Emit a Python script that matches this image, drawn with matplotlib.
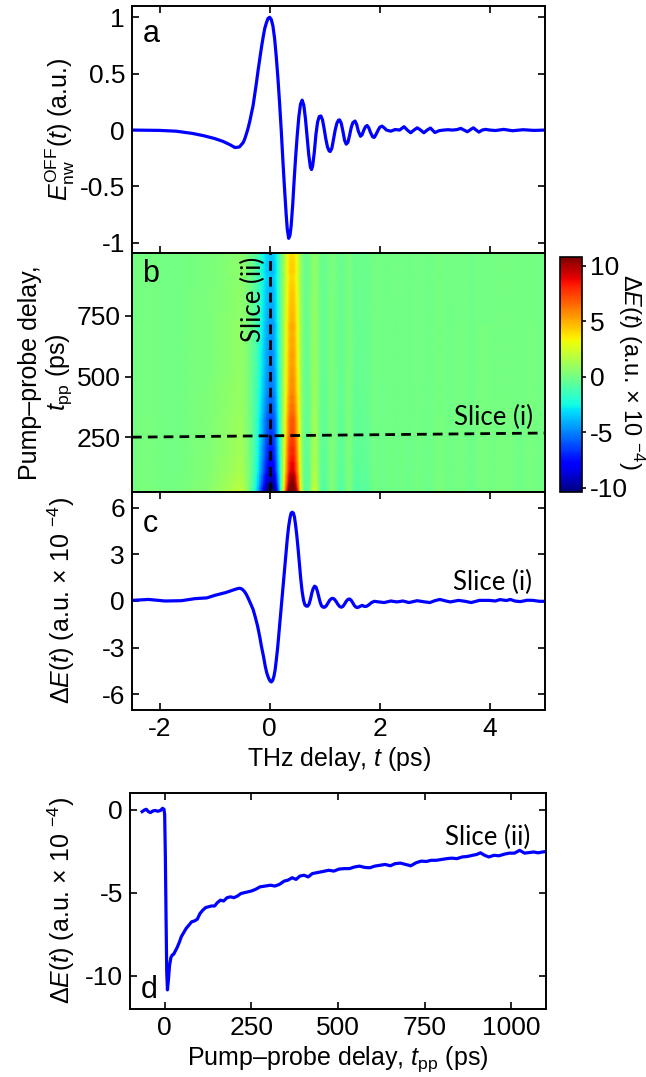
import numpy as np
import matplotlib
matplotlib.use('Agg')
import matplotlib.pyplot as plt

# ---------------- data ----------------
# Panel a: reference THz waveform E_nw^OFF(t)
t_a = [-2.5, -2.0, -1.7, -1.4, -1.2, -1.0, -0.85, -0.72, -0.63, -0.55, -0.48, -0.45,
       -0.42, -0.39, -0.36, -0.33, -0.30, -0.27, -0.24, -0.21, -0.18, -0.15, -0.12, -0.09,
       -0.06, -0.03, 0.0, 0.03, 0.06, 0.09, 0.12, 0.15, 0.18, 0.21, 0.24, 0.27, 0.30, 0.32,
       0.345, 0.37, 0.39, 0.42, 0.44, 0.47, 0.50, 0.53, 0.56, 0.59, 0.62, 0.65, 0.68, 0.71,
       0.74, 0.76, 0.78, 0.81, 0.84, 0.87, 0.90, 0.93, 0.96, 0.99, 1.02, 1.05, 1.08, 1.10,
       1.13, 1.16, 1.19, 1.22, 1.25, 1.27, 1.30, 1.33, 1.36, 1.39, 1.42, 1.45, 1.48, 1.51,
       1.55, 1.58, 1.61, 1.65, 1.68, 1.71, 1.74, 1.77, 1.80, 1.83, 1.87, 1.90, 1.93, 1.97,
       2.00, 2.04, 2.08, 2.12, 2.20, 2.28, 2.36, 2.44, 2.50, 2.56, 2.62, 2.68, 2.74, 2.80,
       2.86, 2.92, 3.00, 3.08, 3.16, 3.24, 3.32, 3.40, 3.47, 3.53, 3.59, 3.65, 3.70, 3.75,
       3.80, 3.86, 3.92, 4.0, 4.1, 4.25, 4.41, 4.6, 4.8, 5.0]
E_off = [0.0, -0.003, -0.01, -0.03, -0.05, -0.075, -0.10, -0.13, -0.155, -0.15, -0.11, -0.075,
         -0.03, 0.02, 0.08, 0.15, 0.22, 0.32, 0.42, 0.53, 0.63, 0.73, 0.82, 0.90,
         0.95, 0.99, 1.0, 0.98, 0.92, 0.81, 0.65, 0.46, 0.24, 0.0, -0.27, -0.52, -0.75, -0.88,
         -0.96, -0.93, -0.85, -0.65, -0.48, -0.25, -0.05, 0.12, 0.23, 0.265, 0.22, 0.10, -0.06, -0.22,
         -0.33, -0.35, -0.32, -0.20, -0.04, 0.07, 0.12, 0.125, 0.09, 0.01, -0.08, -0.15, -0.185, -0.19,
         -0.16, -0.08, 0.0, 0.06, 0.088, 0.09, 0.06, -0.01, -0.09, -0.125, -0.11, -0.05, 0.02, 0.065,
         0.08, 0.05, -0.01, -0.055, -0.04, 0.0, 0.03, 0.04, 0.02, -0.02, -0.06, -0.065, -0.04, 0.0,
         0.025, 0.035, 0.02, 0.0, -0.01, 0.005, 0.0, 0.03, 0.0, -0.024, 0.0, 0.02, 0.0, -0.024,
         0.0, 0.018, -0.022, -0.005, 0.0, 0.003, 0.0, 0.004, 0.015, 0.0, -0.015, 0.005, 0.02, 0.0,
         -0.018, 0.0, 0.006, 0.0, -0.004, 0.006, -0.006, 0.003, -0.003, 0.0]

# Panel c: slice (i), Delta E(t) at t_pp ~ 250 ps (units of 1e-4)
t_c = [-2.5, -2.2, -1.9, -1.6, -1.36, -1.14, -0.99, -0.8, -0.65, -0.58, -0.54, -0.50,
       -0.46, -0.42, -0.38, -0.34, -0.30, -0.26, -0.22, -0.18, -0.15, -0.11, -0.08, -0.05,
       -0.02, 0.01, 0.03, 0.055, 0.08, 0.10, 0.12, 0.145, 0.17, 0.195, 0.22, 0.245, 0.27,
       0.295, 0.32, 0.345, 0.37, 0.39, 0.41, 0.43, 0.45, 0.47, 0.49, 0.515, 0.54, 0.565,
       0.59, 0.615, 0.64, 0.665, 0.69, 0.715, 0.74, 0.765, 0.79, 0.815, 0.84, 0.865, 0.89,
       0.915, 0.94, 0.97, 1.0, 1.03, 1.06, 1.09, 1.12, 1.15, 1.18, 1.21, 1.24, 1.27, 1.30,
       1.33, 1.36, 1.39, 1.42, 1.45, 1.48, 1.51, 1.54, 1.57, 1.60, 1.64, 1.68, 1.72, 1.76,
       1.80, 1.85, 1.90, 1.96, 2.08, 2.2, 2.31, 2.42, 2.53, 2.68, 2.8, 2.91, 3.0, 3.09,
       3.2, 3.28, 3.43, 3.55, 3.66, 3.81, 3.99, 4.1, 4.18, 4.3, 4.37, 4.45, 4.55,
       4.68, 4.78, 4.9, 5.0]
dE_slice_i = [0.04, 0.1, 0.0, 0.02, 0.15, 0.2, 0.37, 0.54, 0.72, 0.80, 0.82, 0.76,
              0.62, 0.40, 0.1, -0.22, -0.55, -1.05, -1.6, -2.3, -2.9, -3.6, -4.2, -4.65,
              -4.95, -5.15, -5.2, -5.1, -4.8, -4.4, -3.8, -3.0, -2.0, -1.0, 0.0, 1.0, 2.0,
              3.0, 4.0, 4.8, 5.35, 5.65, 5.7, 5.65, 5.4, 4.9, 4.3, 3.4, 2.4, 1.4,
              0.6, 0.05, -0.25, -0.33, -0.33, -0.2, 0.1, 0.5, 0.8, 0.95, 0.9, 0.65, 0.3,
              -0.05, -0.3, -0.4, -0.4, -0.3, -0.12, 0.05, 0.15, 0.17, 0.1, -0.05, -0.22, -0.35, -0.4,
              -0.35, -0.2, -0.02, 0.1, 0.13, 0.05, -0.12, -0.3, -0.4, -0.42, -0.35, -0.28, -0.35, -0.34,
              -0.25, -0.1, -0.02, -0.05, -0.1, 0.0, -0.06, 0.0, -0.1, 0.02, -0.05, -0.1, 0.02, 0.1,
              0.0, -0.06, 0.04, -0.02, -0.1, 0.04, 0.04, 0.0, 0.09, 0.03, 0.1, 0.0, -0.04,
              0.05, 0.04, -0.02, -0.02]

# Panel d: slice (ii), Delta E at t = 0 vs pump-probe delay (units of 1e-4)
tpp_d = [-65, -58, -53, -47, -41, -34, -27, -20, -12, -6, -2, 0, 2, 4, 6, 8, 11, 14, 18,
         22, 26, 31, 36, 42, 48, 55, 62, 70, 78, 86, 94, 102, 110, 118, 126, 135, 144,
         152, 161, 170, 180, 190, 200, 210, 220, 230, 240, 250, 262, 275, 290, 305, 318,
         331, 345, 355, 368, 379, 390, 402, 414, 426, 438, 450, 462, 473, 488, 503, 518,
         533, 548, 562, 577, 592, 606, 621, 636, 651, 665, 680, 695, 710, 725, 740, 755,
         769, 784, 799, 814, 828, 843, 858, 873, 888, 900, 911, 923, 935, 950, 964, 980,
         994, 1009, 1024, 1038, 1053, 1065, 1077, 1090, 1100]
dE_slice_ii = [-0.12, -0.02, 0.02, -0.12, -0.18, -0.08, -0.05, -0.1, -0.05, 0.08, 0.02, -0.3,
               -2.8, -6.5, -9.8, -10.85, -10.2, -9.4, -8.9,
               -8.75, -8.7, -8.5, -8.3, -8.0, -7.65, -7.4, -7.15, -6.95, -6.75, -6.7, -6.6,
               -6.25, -6.05, -5.9, -5.85, -5.8, -5.8,
               -5.6, -5.45, -5.5, -5.3, -5.25, -5.3, -5.2, -5.05, -5.0, -4.95, -4.9, -4.8,
               -4.65, -4.6, -4.55, -4.6,
               -4.5, -4.3, -4.25, -4.1, -4.2, -4.0, -3.95, -4.05, -3.85, -3.8, -3.75, -3.7,
               -3.65, -3.7, -3.58, -3.55,
               -3.55, -3.45, -3.4, -3.48, -3.5, -3.4, -3.35, -3.3, -3.38, -3.25, -3.22, -3.3,
               -3.38, -3.2, -3.1, -3.12,
               -3.05, -3.05, -3.0, -2.95, -2.92, -2.95, -2.85, -2.82, -2.75, -2.7, -2.6,
               -2.75, -2.85, -2.75, -2.78, -2.68,
               -2.62, -2.62, -2.45, -2.62, -2.58, -2.55, -2.6, -2.55, -2.52]

# Panel b map amplitude: peak of the red band near t_pp = 250 ps
map_peak_at_250 = 7.5

# Ticks
xticks_t = [-2, 0, 2, 4]
yticks_a = [-1, -0.5, 0, 0.5, 1]
yticklabels_a = ['-1', '-0.5', '0', '0.5', '1']
yticks_b = [250, 500, 750]
yticks_c = [-6, -3, 0, 3, 6]
xticks_d = [0, 250, 500, 750, 1000]
yticks_d = [-10, -5, 0]
cbar_ticks = [-10, -5, 0, 5, 10]

assert len(t_a) == len(E_off)
assert len(t_c) == len(dE_slice_i)
assert len(tpp_d) == len(dE_slice_ii)

# ---------------- style ----------------
plt.rcParams['font.family'] = ['Liberation Sans', 'DejaVu Sans']
plt.rcParams['mathtext.fontset'] = 'custom'
plt.rcParams['mathtext.rm'] = 'Liberation Sans'
plt.rcParams['mathtext.it'] = 'Liberation Sans:italic'
plt.rcParams['mathtext.bf'] = 'Liberation Sans:bold'
plt.rcParams['axes.unicode_minus'] = False
plt.rcParams['axes.linewidth'] = 1.4

TICK_FS = 19
LAB_FS = 18
SLICE_FS = 18.5
LINE_C = '#0000ff'
LW = 2.3

W, H = 646, 1077
fig = plt.figure(figsize=(W / 100, H / 100), dpi=100)


def rect(l, r, t, b):
    return [l / W, 1 - b / H, (r - l) / W, (b - t) / H]


axa = fig.add_axes(rect(132, 545, 6, 253))
axb = fig.add_axes(rect(132, 545, 253, 492))
axc = fig.add_axes(rect(132, 545, 492, 710))
axd = fig.add_axes(rect(130, 546, 793, 1009))
cax = fig.add_axes(rect(560, 582, 257, 492))


def style_in(ax):
    ax.tick_params(direction='in', length=5, width=1.2, top=True, right=True,
                   labelsize=TICK_FS, pad=5)


def place_ylabel(ax, right_px):
    l, b, w, h = ax.get_position().bounds
    x0 = l * W
    ax.yaxis.set_label_coords((right_px - x0) / (w * W), 0.5)


# ---- panel a ----
axa.plot(t_a, E_off, color=LINE_C, lw=LW)
axa.set_xlim(-2.5, 5)
axa.set_ylim(-1.09, 1.1)
axa.set_xticks(xticks_t)
axa.set_xticklabels([])
axa.set_yticks(yticks_a)
axa.set_yticklabels(yticklabels_a)
style_in(axa)
axa.set_ylabel(r'$E_{\mathrm{nw}}^{\mathrm{OFF}}(t)$ (a.u.)', fontsize=LAB_FS)
place_ylabel(axa, 77)
axa.text(0.025, 0.855, 'a', transform=axa.transAxes, fontsize=22, va='baseline')

# ---- panel b (heat map) ----
tpp_arr = np.array(tpp_d, dtype=float)
dii = np.array(dE_slice_ii, dtype=float)
ci = np.array(dE_slice_i, dtype=float)
sel = (tpp_arr >= 22) & (tpp_arr <= 1010)
ref = dii[tpp_arr == 250][0]
heat = np.outer(dii[sel] / ref, ci) * (map_peak_at_250 / ci.max())
mesh = axb.pcolormesh(t_c, tpp_arr[sel], heat, shading='gouraud', cmap='jet',
                      vmin=-10.4, vmax=10.8, rasterized=True)
axb.set_xlim(-2.5, 5)
axb.set_ylim(24, 1009)
axb.set_xticks(xticks_t)
axb.set_xticklabels([])
axb.set_yticks(yticks_b)
axb.tick_params(direction='out', length=5, width=1.2, labelsize=TICK_FS, pad=3)
axb.axvline(0, color='k', lw=2, ls=(0, (3.5, 2.2)))
axb.plot([-2.5, 5], [250, 267], color='k', lw=2, ls=(0, (3.5, 2.2)))
axb.set_ylabel('Pump\u2013probe delay,\n$t_{\\mathrm{pp}}$ (ps)', fontsize=LAB_FS,
               linespacing=1.1)
place_ylabel(axb, 74)
axb.text(0.025, 0.88, 'b', transform=axb.transAxes, fontsize=22, va='baseline')
axb.text(-0.07, 992, 'Slice (ii)', rotation=90, ha='right', va='top',
         fontsize=SLICE_FS, family='Lato')
axb.text(4.78, 300, 'Slice (i)', ha='right', va='baseline', fontsize=SLICE_FS, family='Lato')

cb = fig.colorbar(mesh, cax=cax)
cb.set_ticks(cbar_ticks)
cb.ax.tick_params(labelsize=TICK_FS, direction='out', length=3, width=1.2, pad=3)
cb.outline.set_linewidth(1.2)
fig.text(631 / W, 1 - 372 / H, r'$\Delta E(t)$ (a.u. $\times$ 10 $^{-4}$)',
         fontsize=17, rotation=270, ha='center', va='center')

# ---- panel c ----
axc.plot(t_c, dE_slice_i, color=LINE_C, lw=LW)
axc.set_xlim(-2.5, 5)
axc.set_ylim(-7, 7)
axc.set_xticks(xticks_t)
axc.set_yticks(yticks_c)
style_in(axc)
axc.set_ylabel(r'$\Delta E(t)$ (a.u. $\times$ 10 $^{-4}$)', fontsize=LAB_FS)
place_ylabel(axc, 77)
axc.set_xlabel('THz delay, $t$ (ps)', fontsize=LAB_FS, labelpad=3)
axc.text(0.025, 0.815, 'c', transform=axc.transAxes, fontsize=22, va='baseline')
axc.text(4.76, 0.7, 'Slice (i)', ha='right', va='baseline', fontsize=SLICE_FS, family='Lato')

# ---- panel d ----
axd.plot(tpp_d, dE_slice_ii, color=LINE_C, lw=LW)
axd.set_xlim(-100, 1100)
axd.set_ylim(-12, 1)
axd.set_xticks(xticks_d)
axd.set_yticks(yticks_d)
style_in(axd)
axd.set_ylabel(r'$\Delta E(t)$ (a.u. $\times$ 10 $^{-4}$)', fontsize=LAB_FS)
place_ylabel(axd, 77)
axd.set_xlabel('Pump\u2013probe delay, $t_{\\mathrm{pp}}$ (ps)', fontsize=LAB_FS, labelpad=3)
axd.text(0.025, 0.05, 'd', transform=axd.transAxes, fontsize=22, va='baseline')
axd.text(1054, -2.13, 'Slice (ii)', ha='right', va='baseline', fontsize=SLICE_FS, family='Lato')

fig.savefig('out.png', dpi=100)
